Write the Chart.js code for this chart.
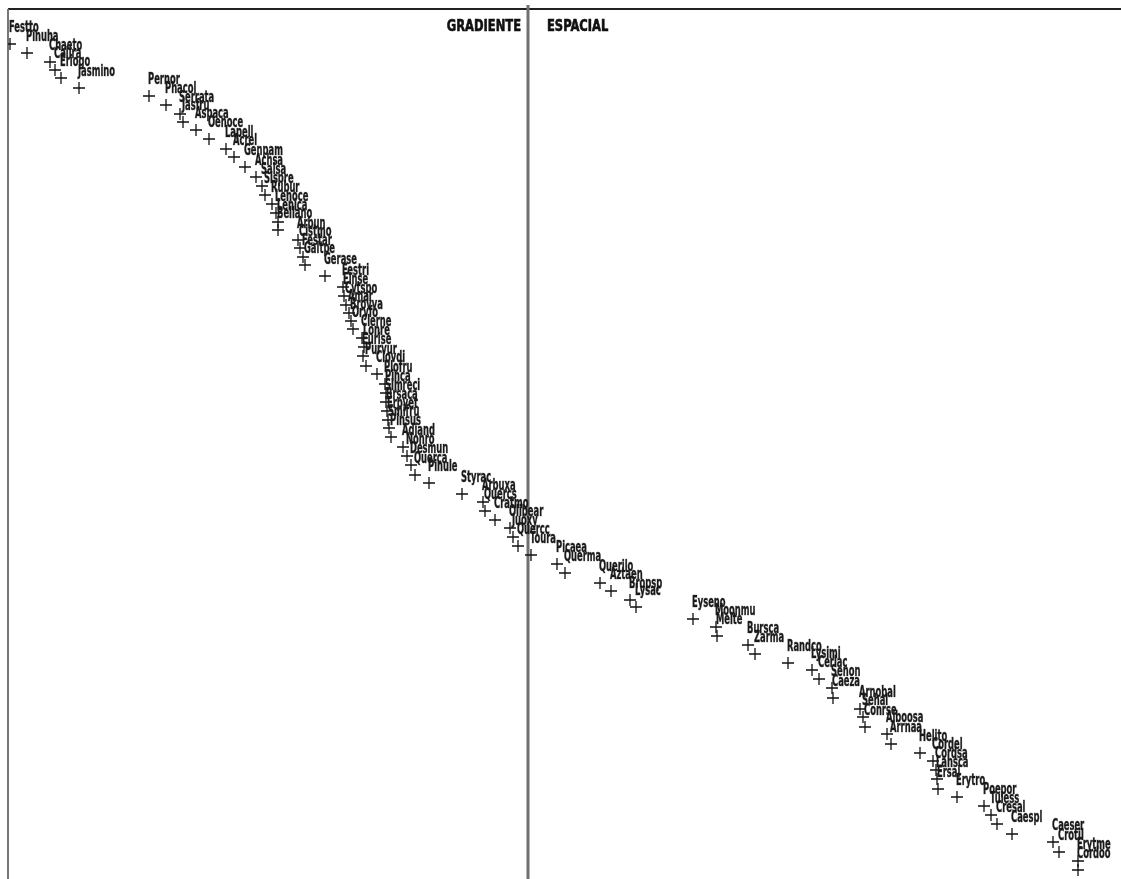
<!DOCTYPE html>
<html>
<head>
<meta charset="utf-8">
<style>
  html, body { margin: 0; padding: 0; background: #fff; }
  canvas { display: block; }
</style>
<script src="https://cdn.jsdelivr.net/npm/chart.js@4/dist/chart.umd.min.js"></script>
</head>
<body>
<canvas id="ordChart" width="1121" height="879"></canvas>
<script>
// especies (etiquetas) y sus puntuaciones en los dos ejes
const species = [
  'Festto', 'Pinuha', 'Chaeto', 'Callra', 'Eriogo', 'Jasmino', 'Pernor', 'Phacol',
  'Serrata', 'Jasfru', 'Aspaca', 'Oenoce', 'Lapell', 'Acrel', 'Genpam', 'Achsa',
  'Salsa', 'Sispre', 'Rubur', 'Lenoce', 'Lenica', 'Bellano', 'Arbun', 'Cistmo',
  'Festar', 'Galtpe', 'Gerase', 'Festri', 'Elnse', 'Cytspo', 'Amar', 'Brovva',
  'Oryfo', 'Clerne', 'Lonre', 'Eurise', 'Purvur', 'Clovdi', 'Plofru', 'Pinca',
  'Simreci', 'Brsaca', 'Erpyet', 'Smifru', 'Pinsus', 'Adiand', 'Nonro', 'Desmun',
  'Querca', 'Pinule', 'Styrac', 'Arbuxa', 'Quercs', 'Cratmo', 'Olibear', 'Juoxy',
  'Quercc', 'Toura', 'Picaea', 'Querma', 'Querilo', 'Aztaen', 'Bropsp', 'Lysac',
  'Eyseno', 'Moonmu', 'Melte', 'Bursca', 'Zarma', 'Randco', 'Lysimi', 'Cerlac',
  'Senon', 'Caeza', 'Arnobal', 'Sehal', 'Conrse', 'Alboosa', 'Arrnaa', 'Helito',
  'Cordel', 'Cordsa', 'Lansca', 'Ersal', 'Erytro', 'Poepor', 'Tuless', 'Cresal',
  'Caespl', 'Caeser', 'Crotil', 'Erytme', 'Cordoo'
];

const axis1 = [
  -5.18, -5.01, -4.78, -4.73, -4.67, -4.49, -3.79, -3.62,
  -3.48, -3.45, -3.32, -3.19, -3.02, -2.94, -2.83, -2.72,
  -2.66, -2.63, -2.56, -2.52, -2.50, -2.50, -2.30, -2.28,
  -2.25, -2.23, -2.03, -1.85, -1.84, -1.82, -1.79, -1.77,
  -1.75, -1.66, -1.64, -1.65, -1.62, -1.51, -1.43, -1.42,
  -1.42, -1.41, -1.40, -1.39, -1.37, -1.25, -1.21, -1.17,
  -1.13, -0.99, -0.66, -0.45, -0.43, -0.33, -0.18, -0.15,
  -0.10, 0.03, 0.29, 0.37, 0.72, 0.83, 1.02, 1.08,
  1.65, 1.88, 1.89, 2.20, 2.27, 2.60, 2.84, 2.91,
  3.04, 3.05, 3.32, 3.35, 3.37, 3.59, 3.63, 3.92,
  4.05, 4.08, 4.09, 4.10, 4.29, 4.56, 4.63, 4.69,
  4.84, 5.25, 5.31, 5.50, 5.50
];

const axis2 = [
  4.56, 4.47, 4.38, 4.30, 4.22, 4.12, 4.04, 3.95,
  3.86, 3.78, 3.70, 3.61, 3.51, 3.43, 3.33, 3.23,
  3.14, 3.05, 2.96, 2.87, 2.78, 2.70, 2.60, 2.52,
  2.43, 2.35, 2.24, 2.13, 2.04, 1.95, 1.87, 1.79,
  1.71, 1.62, 1.53, 1.44, 1.34, 1.26, 1.16, 1.07,
  0.98, 0.89, 0.80, 0.72, 0.63, 0.53, 0.44, 0.35,
  0.25, 0.17, 0.06, -0.02, -0.11, -0.20, -0.28, -0.37,
  -0.46, -0.55, -0.64, -0.73, -0.83, -0.91, -1.00, -1.07,
  -1.19, -1.27, -1.36, -1.45, -1.54, -1.63, -1.70, -1.79,
  -1.88, -1.98, -2.09, -2.17, -2.27, -2.34, -2.44, -2.53,
  -2.61, -2.70, -2.79, -2.89, -2.97, -3.06, -3.15, -3.24,
  -3.34, -3.42, -3.52, -3.61, -3.70
];

// límites de los ejes y posición del corte entre los dos grupos
const xRange = [-5.20, 5.93];
const yRange = [-3.79, 4.91];
const splitAt = 0;
const groupNames = ['GRADIENTE', 'ESPACIAL'];

const narrowFont = '"Liberation Sans Narrow", "DejaVu Sans Condensed", sans-serif';

// texto comprimido en horizontal, como en la figura original
function squeezedText(ctx, text, x, y, align, squeeze, heavy) {
  ctx.save();
  ctx.translate(x, y);
  ctx.scale(squeeze, 1);
  ctx.textAlign = align;
  ctx.fillText(text, 0, 0);
  if (heavy) {
    ctx.lineWidth = heavy;
    ctx.strokeText(text, 0, 0);
  }
  ctx.restore();
}

const ordPlot = {
  id: 'ordPlot',
  beforeDatasetsDraw(chart) {
    const { ctx, chartArea: a, scales: { x } } = chart;
    const xs = x.getPixelForValue(splitAt);
    ctx.save();
    // marco
    ctx.strokeStyle = '#222';
    ctx.lineWidth = 2;
    ctx.beginPath();
    ctx.moveTo(a.left, a.top);
    ctx.lineTo(a.right, a.top);
    ctx.stroke();
    ctx.strokeStyle = '#777';
    ctx.beginPath();
    ctx.moveTo(a.left, a.top);
    ctx.lineTo(a.left, a.bottom);
    ctx.stroke();
    // división gradiente / espacial
    ctx.strokeStyle = '#707070';
    ctx.lineWidth = 3;
    ctx.beginPath();
    ctx.moveTo(xs, a.top - 4);
    ctx.lineTo(xs, a.bottom);
    ctx.stroke();
    ctx.fillStyle = '#111';
    ctx.strokeStyle = '#111';
    ctx.font = 'bold 16px ' + narrowFont;
    ctx.textBaseline = 'middle';
    squeezedText(ctx, groupNames[0], xs - 7, a.top + 18, 'right', 0.8, 0.6);
    squeezedText(ctx, groupNames[1], xs + 19, a.top + 18, 'left', 0.8, 0.6);
    ctx.restore();
  },
  afterDatasetsDraw(chart) {
    const { ctx } = chart;
    const meta = chart.getDatasetMeta(0);
    ctx.save();
    ctx.fillStyle = '#1a1a1a';
    ctx.strokeStyle = 'rgba(30,30,30,0.6)';
    ctx.font = 'bold 15px ' + narrowFont;
    ctx.textBaseline = 'middle';
    meta.data.forEach((pt, i) => {
      squeezedText(ctx, species[i], pt.x - 1, pt.y - 16, 'left', 0.62, 0.6);
    });
    ctx.restore();
  }
};

new Chart(document.getElementById('ordChart'), {
  type: 'scatter',
  data: {
    datasets: [{
      label: 'especies',
      data: species.map((s, i) => ({ x: axis1[i], y: axis2[i] })),
      pointStyle: 'cross',
      pointRadius: 6,
      pointBorderWidth: 1.3,
      borderColor: '#111',
      backgroundColor: '#111'
    }]
  },
  options: {
    responsive: false,
    animation: false,
    layout: { autoPadding: false, padding: { left: 8, top: 9, right: 0, bottom: 0 } },
    plugins: {
      legend: { display: false },
      tooltip: { enabled: false }
    },
    scales: {
      x: { type: 'linear', min: xRange[0], max: xRange[1], display: false },
      y: { type: 'linear', min: yRange[0], max: yRange[1], display: false }
    }
  },
  plugins: [ordPlot]
});
</script>
</body>
</html>
